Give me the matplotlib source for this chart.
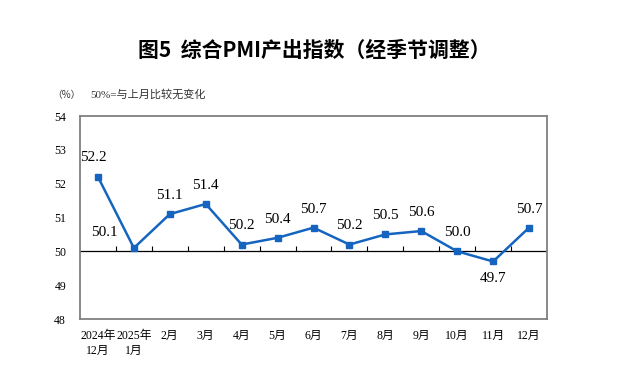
import matplotlib.pyplot as plt
import numpy as np

plt.rcParams['font.family'] = ['Liberation Serif', 'Noto Sans CJK SC', 'DejaVu Sans']

months = ["2024年\n12月", "2025年\n1月", "2月", "3月", "4月", "5月", "6月",
          "7月", "8月", "9月", "10月", "11月", "12月"]
pmi = [52.2, 50.1, 51.1, 51.4, 50.2, 50.4, 50.7, 50.2, 50.5, 50.6, 50.0, 49.7, 50.7]
yticks = [48, 49, 50, 51, 52, 53, 54]

fig = plt.figure(figsize=(6.29, 3.89), dpi=100)
ax = fig.add_axes([80 / 629, 1 - 319 / 389, 467 / 629, 203 / 389])

x = np.arange(len(pmi))
ax.plot(x, pmi, color="#1565c0", lw=1.8, marker="s", ms=4.5, zorder=3)

# reference line at 50 with small ticks between months
ax.axhline(50, color="black", lw=0.9, zorder=2)
ax.vlines(x[:-1] + 0.5, 50, 50.17, color="black", lw=0.8)

for i, v in enumerate(pmi):
    if i == 1:
        ax.text(i - 0.83, v + 0.46, f"{v:.1f}", ha="center", va="center", fontsize=11)
    elif i == 11:
        ax.text(i, v - 0.5, f"{v:.1f}", ha="center", va="center", fontsize=11)
    elif i == 0:
        ax.text(i - 0.13, v + 0.56, f"{v:.1f}", ha="center", va="center", fontsize=11)
    else:
        ax.text(i, v + 0.55, f"{v:.1f}", ha="center", va="center", fontsize=11)

ax.set_xlim(-0.5, len(pmi) - 0.5)
ax.set_ylim(48, 54)
ax.set_yticks(yticks)
ax.set_xticks(x)
ax.set_xticklabels(months, fontsize=8.5, linespacing=1.3)
ax.tick_params(axis="both", length=0, labelsize=8.5)
ax.tick_params(axis="x", pad=8)
ax.tick_params(axis="y", pad=10)
for s in ax.spines.values():
    s.set_color("#808080")
    s.set_linewidth(1.3)

fig.text(0.5, 1 - 50 / 389, "图5  综合PMI产出指数（经季节调整）", ha="center", va="center",
         fontsize=15, fontweight="bold", family=["Noto Sans CJK SC"])
fig.text(52 / 629, 1 - 95 / 389, "（%）", ha="left", va="center", fontsize=7,
         family=["Noto Sans CJK SC"], color="#333333")
fig.text(90 / 629, 1 - 94 / 389, "50%=与上月比较无变化", ha="left", va="center", fontsize=8,
         color="#333333")

fig.savefig("out.png", dpi=100)
